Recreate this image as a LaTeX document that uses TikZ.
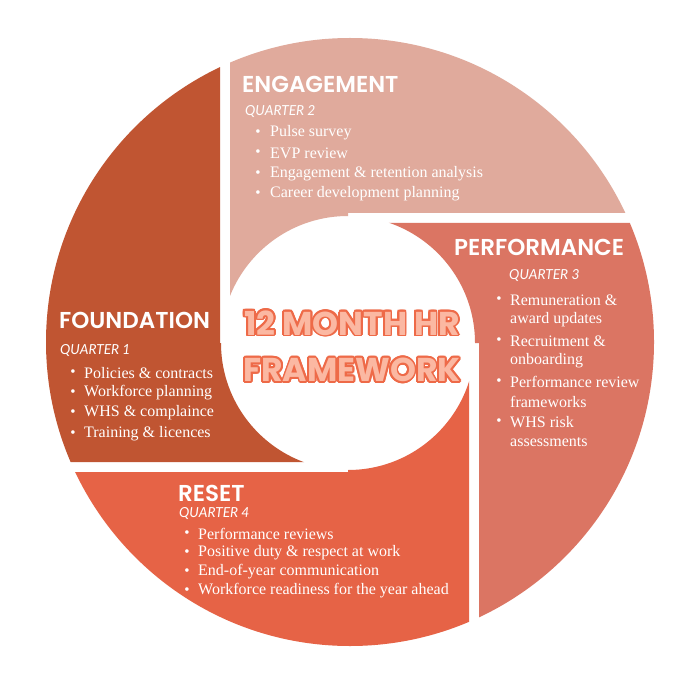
\documentclass[tikz,border=0pt]{standalone}
\usepackage{fontspec}
\usetikzlibrary{calc}
\setmainfont{Liberation Serif}
\newfontfamily\titlefont{Poppins}[UprightFont=* SemiBold,BoldFont=* Bold]
\newfontfamily\qfont{Lato}
\definecolor{cfound}{HTML}{C05532}
\definecolor{cengage}{HTML}{E0AA9C}
\definecolor{cperf}{HTML}{DB7563}
\definecolor{creset}{HTML}{E66346}
\definecolor{cfill}{HTML}{FBB8A2}
\definecolor{cline}{HTML}{EE6A48}
\begin{document}
\begin{tikzpicture}[x=1pt,y=-1pt,
  ttl/.style={anchor=west,text=white,font=\titlefont\fontsize{23}{26}\selectfont,inner sep=0pt},
  qtr/.style={anchor=west,text=white,font=\qfont\itshape\fontsize{13.8}{15}\selectfont,inner sep=0pt},
  itm/.style={anchor=west,text=white,font=\fontsize{16}{18}\selectfont,inner sep=0pt},
  bul/.style={anchor=center,text=white,font=\fontsize{15}{16}\selectfont,inner sep=0pt},
  big/.style={font=\titlefont\bfseries\fontsize{33}{36}\selectfont,inner sep=0pt}]
\useasboundingbox (0,0) rectangle (700,700);
\fill[white] (0,0) rectangle (700,700);
\coordinate (O) at (350,342);
\coordinate (H) at (348,343);
\begin{scope}
\clip (O) circle (304);
% Engagement
\begin{scope}
\clip (230,0) -- (700,0) -- (700,213) -- (348,213) -- (348,343) -- (230,343) -- cycle;
\fill[cengage,even odd rule] (0,0) rectangle (700,700) (H) circle (127);
\end{scope}
% Performance
\begin{scope}
\clip (348,223) -- (700,223) -- (700,700) -- (479,700) -- (479,343) -- (348,343) -- cycle;
\fill[cperf,even odd rule] (0,0) rectangle (700,700) (H) circle (127);
\end{scope}
% Reset
\begin{scope}
\clip (469,343) -- (469,700) -- (0,700) -- (0,472) -- (348,472) -- (348,343) -- cycle;
\fill[creset,even odd rule] (0,0) rectangle (700,700) (H) circle (127);
\end{scope}
% Foundation
\begin{scope}
\clip (220,0) -- (220,343) -- (348,343) -- (348,462) -- (0,462) -- (0,0) -- cycle;
\fill[cfound,even odd rule] (0,0) rectangle (700,700) (H) circle (127);
\end{scope}
\end{scope}
% Engagement text
\node[ttl] (t2) at (242,84) {ENGAGEMENT};
\node[qtr] (q2) at (245,112) {QUARTER 2};
\foreach \y/\t [count=\i] in {133/Pulse survey,153/EVP review,174/Engagement \& retention analysis,194/Career development planning}{
  \node[bul] (b2\i) at (258,\y) {•};
  \node[itm] (e\i) at (270,\y) {\t};
}
% Performance text
\node[ttl] (t3) at (454,247) {PERFORMANCE};
\node[qtr] (q3) at (509,276) {QUARTER 3};
\foreach \y/\t [count=\i] in {300/Remuneration \&,341/Recruitment \&,382/Performance review,422/WHS risk}{
  \node[bul] (b3\i) at (499,\y) {•};
  \node[itm] (p\i) at (510,\y) {\t};
}
\foreach \y/\t [count=\i] in {320/award updates,361/onboarding,402/frameworks,442/assessments}{
  \node[itm] (pp\i) at (510,\y) {\t};
}
% Foundation text
\node[ttl] (t1) at (59,320) {FOUNDATION};
\node[qtr] (q1) at (60,351) {QUARTER 1};
\foreach \y/\t [count=\i] in {373/Policies \& contracts,393/Workforce planning,413/WHS \& complaince,434/Training \& licences}{
  \node[bul] (b1\i) at (73,\y) {•};
  \node[itm] (f\i) at (84,\y) {\t};
}
% Reset text
\node[ttl] (t4) at (178,493) {RESET};
\node[qtr] (q4) at (179,514) {QUARTER 4};
\foreach \y/\t [count=\i] in {534/Performance reviews,553/Positive duty \& respect at work,572/End-of-year communication,591/Workforce readiness for the year ahead}{
  \node[bul] (b4\i) at (187,\y) {•};
  \node[itm] (r\i) at (198,\y) {\t};
}
% Centre title
\foreach \a in {0,22.5,...,337.5}{
  \node[big,text=cline] at ($(352,323)+(\a:1.8)$) {12 MONTH HR};
  \node[big,text=cline] at ($(352,370)+(\a:1.8)$) {FRAMEWORK};
}
\node[big,text=cfill] (c1) at (352,323) {12 MONTH HR};
\node[big,text=cfill] (c2) at (352,370) {FRAMEWORK};
\end{tikzpicture}
\end{document}
